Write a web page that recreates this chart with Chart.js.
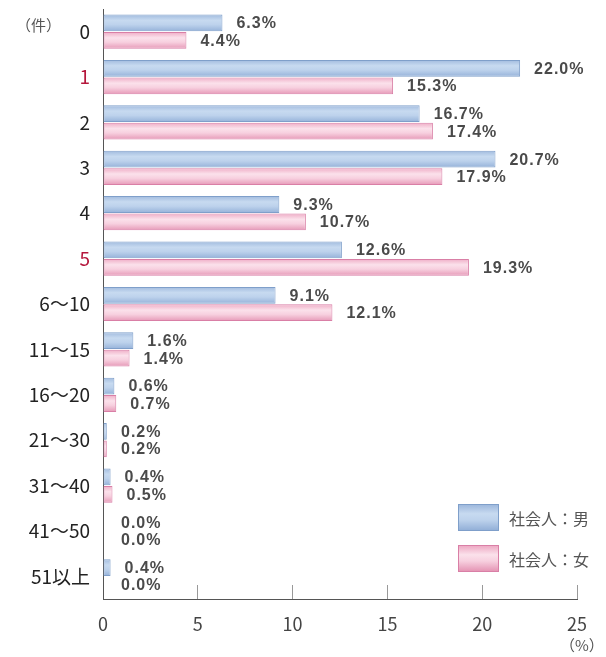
<!DOCTYPE html>
<html lang="ja">
<head>
<meta charset="utf-8">
<script src="https://cdn.jsdelivr.net/npm/chart.js@4/dist/chart.umd.min.js"></script>
<style>
  html, body { margin: 0; padding: 0; background: #fff; }
  .wrap { position: relative; width: 606px; height: 657px; }
  .unit { position: absolute; font: 15px 'Noto Sans CJK JP', sans-serif; color: #555; }
  .legend-item { position: absolute; left: 458px; display: flex; align-items: center;
    font: 16px 'Noto Sans CJK JP', sans-serif; color: #555; }
  .legend-item i { display: block; width: 39px; height: 25px; margin-right: 10px; }
</style>
</head>
<body>
<div class="wrap">
  <canvas id="chart" width="606" height="657"></canvas>
  <span class="unit" style="left:16px;top:14px">（件）</span>
  <span class="unit" style="left:560px;top:634px">（%）</span>
  <div class="legend-item" id="lg-male" style="top:504px"><i></i><span></span></div>
  <div class="legend-item" id="lg-female" style="top:545px"><i></i><span></span></div>
</div>
<script>
const categories = ['0', '1', '2', '3', '4', '5', '6〜10', '11〜15', '16〜20', '21〜30', '31〜40', '41〜50', '51以上'];
const male   = [6.3, 22.0, 16.7, 20.7, 9.3, 12.6, 9.1, 1.6, 0.6, 0.2, 0.4, 0.0, 0.4];
const female = [4.4, 15.3, 17.4, 17.9, 10.7, 19.3, 12.1, 1.4, 0.7, 0.2, 0.5, 0.0, 0.0];
const seriesNames = ['社会人：男', '社会人：女'];
const xTicks = [0, 5, 10, 15, 20, 25];
const redRows = [1, 5];

const CAT_PCT = 0.77;
const BLUE_STOPS = [[0, '#9fb9dd'], [0.35, '#c7daf0'], [0.6, '#bdd2ec'], [1, '#93b0d8']];
const PINK_STOPS = [[0, '#eeaac4'], [0.35, '#fbe1eb'], [0.6, '#f7d0df'], [1, '#e596b5']];

function barFill(stops) {
  return c => {
    const chart = c.chart;
    const area = chart.chartArea;
    if (!area || c.type !== 'data') return stops[1][1];
    const rowH = (area.bottom - area.top) / categories.length;
    const center = chart.scales.y.getPixelForValue(c.dataIndex);
    const slot = rowH * CAT_PCT / 2;
    const top = center - rowH * CAT_PCT / 2 + c.datasetIndex * slot;
    const g = chart.ctx.createLinearGradient(0, top, 0, top + slot);
    stops.forEach(([o, col]) => g.addColorStop(o, col));
    return g;
  };
}

function cssGradient(stops) {
  return 'linear-gradient(to bottom, ' + stops.map(([o, c]) => c + ' ' + (o * 100) + '%').join(', ') + ')';
}

// value labels next to each bar
const valueLabels = {
  id: 'valueLabels',
  afterDatasetsDraw(chart) {
    const ctx = chart.ctx;
    ctx.save();
    ctx.font = 'bold 16px "Liberation Sans", Arial, sans-serif';
    ctx.letterSpacing = '1px';
    ctx.fillStyle = '#4a4a4a';
    ctx.textBaseline = 'middle';
    ctx.textAlign = 'left';
    chart.data.datasets.forEach((ds, i) => {
      chart.getDatasetMeta(i).data.forEach((bar, j) => {
        const x = Math.max(bar.x + 14, 121);
        ctx.fillText(ds.data[j].toFixed(1) + '%', x, bar.y + 1);
      });
    });
    ctx.restore();
  }
};

const datasets = [
  { label: seriesNames[0], data: male, backgroundColor: barFill(BLUE_STOPS), borderColor: '#7f9fca' },
  { label: seriesNames[1], data: female, backgroundColor: barFill(PINK_STOPS), borderColor: '#d97fa6' },
].map(d => Object.assign(d, {
  borderWidth: 1,
  borderSkipped: false,
  categoryPercentage: CAT_PCT,
  barPercentage: 0.96,
}));

new Chart(document.getElementById('chart'), {
  type: 'bar',
  data: { labels: categories, datasets },
  plugins: [valueLabels],
  options: {
    indexAxis: 'y',
    responsive: false,
    animation: false,
    layout: { padding: { top: 9, right: 29, bottom: 0, left: 0 } },
    plugins: { legend: { display: false }, tooltip: { enabled: false } },
    scales: {
      x: {
        min: 0,
        max: 25,
        afterBuildTicks: s => { s.ticks = xTicks.map(v => ({ value: v })); },
        afterFit: s => { s.height = 58; s.paddingLeft = 0; s.paddingRight = 0; },
        ticks: {
          color: '#444',
          padding: 28,
          maxRotation: 0,
          font: { family: "'Noto Sans CJK JP', sans-serif", size: 18 },
        },
        grid: { drawOnChartArea: false, drawTicks: true, tickLength: -14, color: '#999' },
        border: { display: true, color: '#555', width: 1 },
      },
      y: {
        afterFit: s => { s.width = 103; s.paddingTop = 0; s.paddingBottom = 0; },
        ticks: {
          padding: 13,
          color: c => redRows.includes(c.index) ? '#b5173c' : '#222',
          font: { family: "'Noto Sans CJK JP', sans-serif", size: 19 },
        },
        grid: { display: false, drawTicks: false },
        border: { display: true, color: '#555', width: 1 },
      },
    },
  },
});

[['lg-male', BLUE_STOPS, '#7f9fca'], ['lg-female', PINK_STOPS, '#d97fa6']].forEach(([id, stops, border], i) => {
  const el = document.getElementById(id);
  el.querySelector('i').style.background = cssGradient(stops);
  el.querySelector('i').style.border = '1px solid ' + border;
  el.querySelector('span').textContent = seriesNames[i];
});
</script>
</body>
</html>
